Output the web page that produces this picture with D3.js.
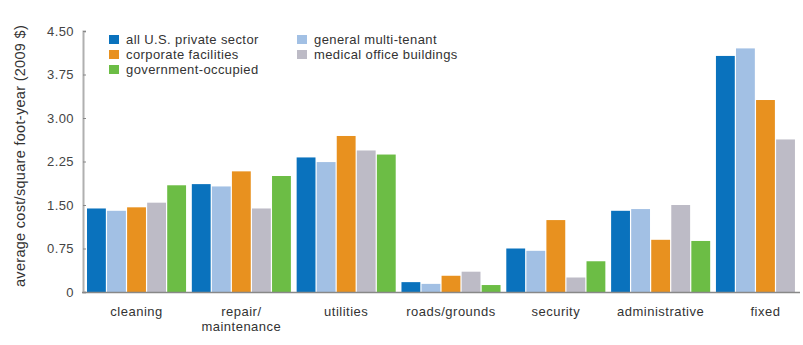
<!DOCTYPE html>
<html><head><meta charset="utf-8">
<script src="https://cdn.jsdelivr.net/npm/d3@7"></script>
<style>body{margin:0;background:#fff}svg{display:block;font-family:"Liberation Sans",Arial,sans-serif}</style>
</head><body><svg id="c" width="803" height="345"></svg>
<script>
const categories = ["cleaning", "repair/\nmaintenance", "utilities", "roads/grounds", "security", "administrative", "fixed"];
const seriesNames = ["all U.S. private sector", "general multi-tenant", "corporate facilities", "medical office buildings", "government-occupied"];
const seriesColors = ["#0a72bd", "#a2c0e4", "#e8911f", "#bdbbc6", "#6cbd45"];
const allPrivate   = [1.44, 1.86, 2.32, 0.17, 0.75, 1.40, 4.07];
const multiTenant  = [1.40, 1.82, 2.24, 0.14, 0.71, 1.43, 4.20];
const corporate    = [1.46, 2.08, 2.69, 0.28, 1.24, 0.90, 3.31];
const medical      = [1.54, 1.44, 2.44, 0.35, 0.25, 1.50, 2.63];
const government   = [1.84, 2.00, 2.37, 0.12, 0.53, 0.88, null];
const yTicks = [0, 0.75, 1.50, 2.25, 3.00, 3.75, 4.50];
const yLabel = "average cost/square foot-year (2009 $)";
const seriesValues = [allPrivate, multiTenant, corporate, medical, government];

const FONT = "'Liberation Sans',Arial,sans-serif";
const svg = d3.select("#c");
const x0 = d3.scaleBand().domain(categories).range([87, 815]).paddingInner(0.055).paddingOuter(0);
const x1 = d3.scaleBand().domain(d3.range(seriesNames.length)).range([0, x0.bandwidth()]).paddingInner(0.06);
const y = d3.scaleLinear().domain([0, 4.5]).range([292, 31]);

// bars
categories.forEach((cat, ci) => {
  seriesValues.forEach((vals, si) => {
    const v = vals[ci];
    if (v == null) return;
    svg.append("rect")
      .attr("x", x0(cat) + x1(si))
      .attr("y", y(v))
      .attr("width", x1.bandwidth())
      .attr("height", y(0) - y(v))
      .attr("fill", seriesColors[si]);
  });
});

// y axis
const yAxis = d3.axisLeft(y).tickValues(yTicks).tickSize(-3).tickPadding(9)
  .tickFormat(d => d === 0 ? "0" : d3.format(".2f")(d));
const gy = svg.append("g").attr("transform", "translate(83,0)").call(yAxis);
gy.select(".domain").attr("stroke", "#b0b0b0").attr("stroke-width", 2);
gy.selectAll(".tick line").attr("stroke", "#888");
gy.selectAll(".tick text").attr("fill", "#444").attr("font-size", 13)
  .attr("letter-spacing", 0.4).attr("font-family", FONT);

// x axis baseline
svg.append("line").attr("x1", 82).attr("x2", 800).attr("y1", y(0) + 0.5).attr("y2", y(0) + 0.5)
  .attr("stroke", "#888").attr("stroke-width", 1.5);

// category labels
categories.forEach(cat => {
  const cx = x0(cat) + x0.bandwidth() / 2;
  const t = svg.append("text").attr("x", cx).attr("y", 316)
    .attr("text-anchor", "middle").attr("font-size", 13).attr("letter-spacing", 0.5).attr("fill", "#333");
  cat.split("\n").forEach((line, i) => {
    t.append("tspan").attr("x", cx).attr("dy", i === 0 ? 0 : 15).text(line);
  });
});

// y label
svg.append("text").attr("transform", "translate(25,156) rotate(-90)")
  .attr("text-anchor", "middle").attr("font-size", 14.5).attr("letter-spacing", 0.3)
  .attr("fill", "#333").text(yLabel);

// legend
const legendPos = [[109, 35], [297, 35], [109, 50], [297, 50], [109, 65]];
seriesNames.forEach((name, i) => {
  const [lx, ly] = legendPos[i];
  svg.append("rect").attr("x", lx).attr("y", ly).attr("width", 10).attr("height", 9).attr("fill", seriesColors[i]);
  svg.append("text").attr("x", lx + 17).attr("y", ly + 9).attr("font-size", 13).attr("letter-spacing", 0.4)
    .attr("fill", "#333").text(name);
});
</script></body></html>
